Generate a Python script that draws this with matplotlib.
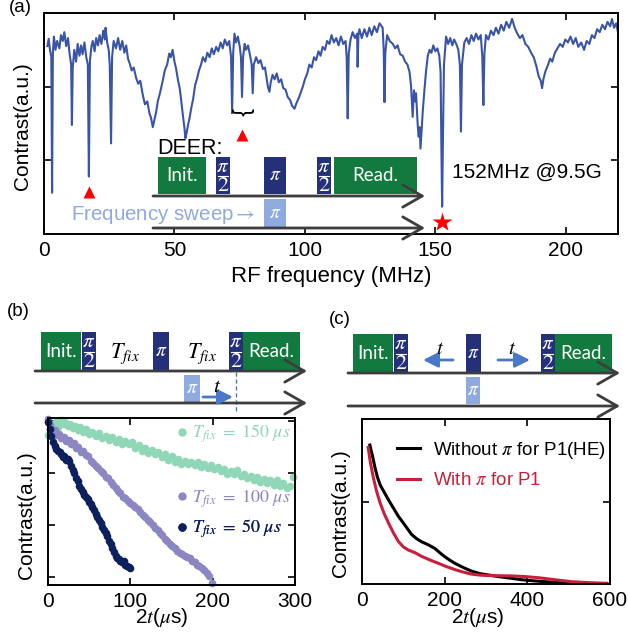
import matplotlib
matplotlib.use('Agg')
import matplotlib.pyplot as plt
from matplotlib.patches import Rectangle
from matplotlib.lines import Line2D

plt.rcParams['font.family'] = ['Liberation Sans', 'DejaVu Sans']
plt.rcParams['mathtext.fontset'] = 'stix'

# ---- (a) RF spectrum ----
rf_freq = [1.3, 1.8, 2.3, 2.8, 3.1, 3.4, 3.8, 4.4, 5.0, 5.9, 6.5, 7.2, 7.8, 8.5, 9.2, 9.8,
           10.4, 10.7, 11.0, 11.6, 12.3, 12.9, 13.6, 14.2, 14.8, 15.5, 16.2, 16.8, 17.2, 17.6,
           18.2, 18.7, 19.4, 20.0, 20.7, 21.3, 22.0, 22.7, 23.3, 23.6, 24.2, 24.8, 25.2, 25.7,
           26.1, 26.7, 27.6, 28.4, 29.2, 30.0, 30.8, 31.5, 32.2, 32.8, 33.6, 34.4, 35.3, 36.1,
           36.9, 37.9, 38.7, 39.6, 40.4, 41.0, 41.7, 42.3, 43.0, 43.6, 44.5, 45.5, 46.3, 47.2,
           48.0, 48.6, 49.3, 50.0, 50.6, 51.4, 52.0, 52.5, 53.2, 53.8, 54.2, 54.7, 55.2, 55.7,
           56.5, 57.2, 57.9, 58.6, 59.4, 60.2, 60.9, 61.8, 62.6, 63.5, 64.3, 65.1, 66.0, 66.8,
           67.7, 68.5, 69.3, 70.2, 71.0, 71.7, 72.1, 72.5, 73.0, 73.6, 74.3, 75.0, 75.5, 75.9,
           76.3, 76.9, 77.4, 78.2, 79.0, 79.6, 80.0, 80.4, 81.3, 82.2, 83.0, 83.9, 84.7, 85.3,
           85.8, 86.4, 86.9, 87.6, 88.4, 89.2, 90.0, 90.9, 91.7, 92.6, 93.4, 94.3, 95.1, 96.0,
           96.8, 97.6, 98.4, 99.2, 100.0, 100.9, 101.7, 102.6, 103.5, 104.3, 105.2, 106.0, 106.8,
           107.7, 108.5, 109.4, 110.2, 111.1, 112.0, 112.9, 113.8, 114.7, 115.6, 116.0, 116.4,
           116.8, 117.5, 118.3, 119.2, 120.0, 120.2, 120.5, 120.9, 121.8, 122.8, 123.8, 124.7,
           125.6, 126.6, 127.6, 128.6, 129.8, 130.2, 130.5, 130.8, 131.5, 132.5, 133.7, 134.6,
           135.5, 136.5, 137.5, 138.4, 139.3, 140.1, 140.7, 141.3, 141.8, 142.3, 142.6, 143.2,
           143.6, 144.0, 144.3, 144.7, 145.2, 145.8, 146.4, 147.1, 147.8, 148.5, 149.2, 150.0,
           150.8, 151.5, 152.0, 152.3, 152.6, 152.9, 153.3, 154.1, 154.9, 155.7, 156.5, 157.2,
           158.0, 158.8, 159.4, 159.8, 160.2, 161.1, 162.0, 162.9, 163.8, 164.7, 165.6, 166.5,
           167.4, 168.0, 168.4, 168.8, 169.4, 170.3, 171.3, 172.3, 173.2, 174.2, 175.2, 176.2,
           177.2, 178.3, 179.4, 180.4, 181.4, 182.4, 183.4, 184.5, 185.6, 186.7, 187.7, 188.7,
           189.6, 190.4, 190.9, 191.4, 192.1, 193.0, 194.0, 194.8, 195.8, 196.8, 197.8, 198.8,
           199.8, 200.8, 201.8, 202.8, 203.8, 204.8, 205.9, 207.0, 208.0, 209.0, 210.0, 211.0,
           212.0, 213.0, 214.0, 215.0, 216.0, 217.0, 217.7, 218.5, 219.3, 220.0]
rf_contrast = [2.55, 2.65, 2.50, 2.40, 0.56, 2.45, 2.68, 2.50, 2.62, 2.52, 2.70, 2.62, 2.74, 2.55, 2.66, 2.45,
               2.30, 1.48, 2.25, 2.50, 2.34, 2.58, 2.42, 2.56, 2.44, 2.60, 2.40, 2.30, 0.78, 2.35,
               2.55, 2.62, 2.48, 2.66, 2.56, 2.70, 2.58, 2.76, 2.64, 2.80, 2.60, 2.50, 2.30, 1.23,
               2.40, 2.62, 2.52, 2.66, 2.50, 2.62, 2.46, 2.56, 2.38, 2.32, 2.22, 2.26, 2.12, 2.04,
               2.08, 1.88, 1.76, 1.80, 1.64, 1.58, 1.45, 1.55, 1.66, 1.80, 1.92, 2.08, 2.22, 2.30,
               2.45, 2.40, 2.50, 2.34, 2.25, 2.08, 1.98, 1.84, 1.62, 1.45, 1.30, 1.38, 1.48, 1.56,
               1.72, 1.84, 2.02, 2.10, 2.22, 2.30, 2.40, 2.34, 2.46, 2.40, 2.52, 2.44, 2.54, 2.48,
               2.60, 2.52, 2.64, 2.56, 2.62, 2.40, 1.64, 2.45, 2.72, 2.60, 2.68, 2.55, 2.40, 1.86,
               2.40, 2.58, 2.50, 2.56, 2.42, 2.30, 1.91, 2.30, 2.40, 2.32, 2.36, 2.24, 2.26, 2.12,
               2.00, 1.93, 2.06, 2.16, 2.10, 2.18, 2.06, 2.10, 1.98, 1.96, 1.86, 1.82, 1.74, 1.70,
               1.78, 1.84, 1.92, 2.00, 2.10, 2.18, 2.30, 2.26, 2.40, 2.36, 2.48, 2.42, 2.54,
               2.50, 2.62, 2.58, 2.70, 2.60, 2.66, 2.56, 2.68, 2.58, 2.62, 2.40, 1.57,
               2.45, 2.64, 2.74, 2.66, 2.72, 2.27, 2.70, 2.78, 2.66, 2.78, 2.68, 2.80,
               2.70, 2.82, 2.74, 2.86, 2.80, 2.50, 1.79, 2.45, 2.70, 2.62, 2.58, 2.52,
               2.56, 2.44, 2.42, 2.34, 2.30, 2.20, 2.00, 1.59, 1.95, 1.80, 1.91, 1.50,
               1.32, 1.45, 1.16, 1.40, 1.68, 1.95, 2.20, 2.42, 2.50, 2.46, 2.56, 2.48,
               2.52, 2.42, 2.20, 1.20, 0.37, 1.30, 2.30, 2.68, 2.58, 2.66, 2.56, 2.64,
               2.58, 2.50, 2.30, 1.39, 2.30, 2.60, 2.66, 2.58, 2.70, 2.62, 2.72, 2.64,
               2.70, 2.40, 1.75, 2.45, 2.70, 2.64, 2.76, 2.70, 2.80, 2.72, 2.84, 2.76,
               2.88, 2.80, 2.92, 2.80, 2.72, 2.66, 2.70, 2.58, 2.54, 2.46, 2.40, 2.28,
               2.14, 2.08, 1.98, 2.10, 2.20, 2.28, 2.38, 2.34, 2.46, 2.52, 2.58, 2.54,
               2.64, 2.60, 2.68, 2.58, 2.66, 2.54, 2.60, 2.50, 2.62, 2.58, 2.70, 2.66,
               2.78, 2.74, 2.84, 2.78, 2.88, 2.82, 2.92, 2.80, 2.86, 2.74]
p1_freq = [17.4, 75.7]
p1_contrast = [0.57, 1.34]
nv_freq = [152.6]
nv_contrast = [0.16]

# ---- (b) DEER decay for three T_fix ----
t150_x = [0, 2, 4, 6, 8, 10, 12, 15, 17, 19, 21, 24, 27, 30, 33, 36, 39, 42, 46, 50, 54, 58, 62, 66,
          70, 74, 78, 82, 86, 90, 94, 98, 102, 106, 110, 114, 118, 122, 126, 130, 134, 138, 142,
          146, 150, 154, 158, 162, 166, 170, 174, 178, 182, 186, 190, 194, 198, 202, 206, 210,
          214, 218, 222, 226, 230, 234, 238, 242, 246, 250, 254, 258, 262, 266, 270, 274, 278,
          282, 286, 290, 294, 297]
t150_y = [2.73, 2.85, 2.95, 2.80, 2.92, 2.98, 2.88, 3.02, 3.03, 2.95, 2.98, 2.90, 2.94, 2.86, 2.90,
          2.82, 2.89, 2.80, 2.84, 2.76, 2.80, 2.72, 2.78, 2.68, 2.72, 2.64, 2.70, 2.60, 2.66, 2.56,
          2.62, 2.55, 2.60, 2.48, 2.54, 2.42, 2.48, 2.38, 2.44, 2.36, 2.40, 2.30, 2.36, 2.26, 2.32,
          2.22, 2.28, 2.18, 2.24, 2.18, 2.22, 2.16, 2.22, 2.12, 2.18, 2.10, 2.16, 2.08, 2.12, 2.04,
          2.08, 1.98, 2.04, 1.98, 2.06, 1.94, 1.98, 1.90, 1.94, 1.86, 1.92, 1.82, 1.88, 1.80, 1.86,
          1.78, 1.86, 1.76, 1.80, 1.72, 1.76, 1.92]
t100_x = [0, 2, 4, 6, 8, 10, 13, 16, 19, 22, 25, 28, 31, 34, 37, 40, 43, 46, 49, 52, 55, 58, 61, 64,
          67, 70, 73, 76, 79, 82, 85, 88, 91, 94, 97, 100, 103, 106, 109, 112, 115, 118, 121, 124,
          127, 130, 133, 136, 139, 142, 145, 148, 151, 154, 157, 160, 163, 166, 169, 172, 175,
          178, 181, 184, 187, 190, 193, 196, 199]
t100_y = [3.05, 2.92, 2.85, 2.78, 2.82, 2.74, 2.76, 2.68, 2.70, 2.62, 2.64, 2.56, 2.58, 2.48, 2.50,
          2.40, 2.42, 2.34, 2.32, 2.24, 2.20, 2.14, 2.10, 2.04, 2.00, 1.92, 1.90, 1.82, 1.78, 1.72,
          1.66, 1.62, 1.54, 1.52, 1.46, 1.42, 1.38, 1.34, 1.30, 1.26, 1.20, 1.16, 1.10, 1.06, 1.00,
          0.94, 0.90, 0.84, 0.80, 0.74, 0.70, 0.64, 0.60, 0.56, 0.50, 0.46, 0.44, 0.40, 0.38, 0.36,
          0.30, 0.28, 0.24, 0.22, 0.18, 0.14, 0.08, 0.02, -0.12]
t50_x = [0, 2, 4, 6, 8, 10, 12, 14, 16, 18, 20, 22, 24, 26, 28, 30, 32, 34, 36, 38, 40, 42, 44, 46,
         48, 50, 52, 54, 56, 58, 60, 62, 64, 66, 68, 70, 72, 74, 76, 78, 80, 82, 84, 86, 88, 90,
         92, 94, 96, 98, 100]
t50_y = [2.99, 2.85, 2.72, 2.60, 2.52, 2.47, 2.42, 2.40, 2.36, 2.30, 2.32, 2.26, 2.28, 2.24, 2.14,
         2.06, 2.00, 1.90, 1.84, 1.76, 1.70, 1.64, 1.58, 1.54, 1.50, 1.44, 1.40, 1.34, 1.28, 1.22,
         1.16, 1.10, 1.04, 0.96, 0.90, 0.84, 0.78, 0.70, 0.64, 0.55, 0.48, 0.40, 0.36, 0.34, 0.30,
         0.28, 0.30, 0.24, 0.22, 0.20, 0.18]

# ---- (c) Hahn echo with / without P1 pi pulse ----
he_x = [19, 25, 31, 37, 44, 54, 64, 76, 88, 100, 110, 120, 132, 144, 160, 176, 188, 200, 212, 225,
        245, 265, 285, 305, 330, 360, 386, 420, 466, 500, 547, 592]
he_y = [0.842, 0.78, 0.71, 0.65, 0.60, 0.555, 0.51, 0.46, 0.41, 0.37, 0.335, 0.30, 0.275, 0.256,
        0.238, 0.216, 0.19, 0.166, 0.145, 0.125, 0.10, 0.078, 0.063, 0.055, 0.045, 0.035, 0.026,
        0.018, 0.010, 0.007, 0.004, 0.004]
p1_x = [15, 20, 27, 35, 44, 54, 64, 76, 88, 100, 112, 128, 144, 165, 185, 205, 225, 245, 265, 285,
        305, 335, 362, 395, 427, 470, 507, 550, 592]
p1_y = [0.828, 0.74, 0.65, 0.565, 0.49, 0.425, 0.37, 0.31, 0.258, 0.225, 0.206, 0.19, 0.168, 0.145,
        0.125, 0.105, 0.087, 0.072, 0.060, 0.054, 0.051, 0.050, 0.049, 0.045, 0.038, 0.025, 0.014,
        0.008, 0.002]

GREEN = '#127a3e'
NAVY = '#24307a'
LIGHT = '#8eaade'
GREY = '#3d3d3d'
ARROW = '#4a78c8'

W, H = 628, 636
fig = plt.figure(figsize=(6.28, 6.36), dpi=100)


def place(l, t, r, b):
    return [l / W, 1 - b / H, (r - l) / W, (b - t) / H]


def style(ax):
    ax.tick_params(direction='in', top=True, right=True, length=5, width=1.2,
                   labelsize=15, pad=5)
    for s in ax.spines.values():
        s.set_linewidth(1.4)
    ax.set_yticklabels([])


# (a)
ax_a = fig.add_axes(place(44, 13, 618, 234))
ax_a.plot(rf_freq, rf_contrast, color='#3a55a6', lw=1.5)
ax_a.plot(p1_freq, p1_contrast, '^', color='red', ms=9, mec='none', zorder=4)
ax_a.plot(nv_freq, nv_contrast, '*', color='red', ms=15, mec='none', zorder=4, clip_on=False)
ax_a.set_xlim(0, 220)
ax_a.set_ylim(0, 3)
ax_a.set_xticks([0, 50, 100, 150, 200])
ax_a.set_yticks([1, 2])
style(ax_a)
ax_a.set_xlabel('RF frequency (MHz)', fontsize=16, va='top')
ax_a.xaxis.set_label_coords(0.5, -0.143)
ax_a.set_ylabel('Contrast(a.u.)', fontsize=15)
ax_a.yaxis.set_label_coords(-0.021, 0.49)

# (b)
ax_b = fig.add_axes(place(48, 418, 295, 585))
series_b = [(t150_x, t150_y, '#8fd7b6', r'$T_{fix}\ =\ 150\ \mu s$', 434),
            (t100_x, t100_y, '#8c86c2', r'$T_{fix}\ =\ 100\ \mu s$', 499),
            (t50_x, t50_y, '#0d1f5c', r'$T_{fix}\ =\ 50\ \mu s$', 529)]
for xs, ys, c, lab, py in series_b:
    ax_b.plot(xs, ys, 'o', color=c, ms=5.5, mec='none', clip_on=False)
for xs, ys, c, lab, py in series_b:
    h = Line2D([], [], marker='o', ls='none', color=c, ms=6, mec='none')
    leg = ax_b.legend([h], [lab], loc='center left', frameon=False, fontsize=13,
                      bbox_to_anchor=((177.5 - 48) / 247, (585 - py) / 167),
                      borderpad=0, borderaxespad=0, handlelength=0.5,
                      handletextpad=0.3, labelcolor=c)
    ax_b.add_artist(leg)
ax_b.set_xlim(0, 300)
ax_b.set_ylim(-0.154, 3.06)
ax_b.set_xticks([0, 100, 200, 300])
ax_b.set_yticks([0, 1, 2, 3])
style(ax_b)
ax_b.set_xlabel(r'2$t$($\mu$s)', fontsize=15, va='top')
ax_b.xaxis.set_label_coords(0.46, -0.126)
ax_b.set_ylabel('Contrast(a.u.)', fontsize=15)
ax_b.yaxis.set_label_coords(-0.049, 0.42)

# (c)
ax_c = fig.add_axes(place(362, 419, 610, 584))
ax_c.plot(he_x, he_y, color='black', lw=2.2, label=r'Without $\pi$ for P1(HE)')
ax_c.plot(p1_x, p1_y, color='#c8203c', lw=2.2, label=r'With $\pi$ for P1')
ax_c.legend(loc='center left', bbox_to_anchor=(0.141, 0.724), frameon=False, fontsize=13.5,
            borderpad=0, borderaxespad=0, handlelength=1.23, handletextpad=0.7,
            labelspacing=0.6, labelcolor='linecolor')
ax_c.set_xlim(0, 600)
ax_c.set_ylim(0, 1)
ax_c.set_xticks([0, 200, 400, 600])
ax_c.set_yticks([0, 0.5, 1])
style(ax_c)
ax_c.set_xlabel(r'2$t$($\mu$s)', fontsize=15, va='top')
ax_c.xaxis.set_label_coords(0.468, -0.133)
ax_c.set_ylabel('Contrast(a.u.)', fontsize=15)
ax_c.yaxis.set_label_coords(-0.048, 0.43)

# pulse-sequence sketches, drawn in pixel space on top
ov = fig.add_axes([0, 0, 1, 1], zorder=10)
ov.set_xlim(0, W)
ov.set_ylim(H, 0)
ov.axis('off')
ov.patch.set_visible(False)


def pulse(l, r, t, b, color, label=None, half=False):
    ov.add_patch(Rectangle((l, t), r - l, b - t, color=color, lw=0))
    cx = (l + r) / 2
    hgt = b - t
    if half:
        ov.text(cx, t + hgt * 0.25, r'$\pi$', color='w', ha='center', va='center', fontsize=15)
        ov.plot([l + 2, r - 2], [t + hgt * 0.5, t + hgt * 0.5], color='w', lw=0.8)
        ov.text(cx, t + hgt * 0.76, r'$2$', color='w', ha='center', va='center', fontsize=16)
    elif label == 'pi':
        ov.text(cx, t + hgt * 0.5, r'$\pi$', color='w', ha='center', va='center', fontsize=14)
    elif label:
        ov.text(cx, t + hgt * 0.5, label, color='w', ha='center', va='center', fontsize=13.5,
                family=['Lato', 'DejaVu Sans'])


def timeline(x0, x1, y):
    ov.annotate('', xy=(x1, y), xytext=(x0, y),
                arrowprops=dict(arrowstyle='->,head_length=1.4,head_width=0.8', lw=2,
                                color=GREY, mutation_scale=10, shrinkA=0, shrinkB=0))


def blue_arrow(x0, x1, y):
    ov.annotate('', xy=(x1, y), xytext=(x0, y),
                arrowprops=dict(arrowstyle='-|>,head_length=0.9,head_width=0.45', lw=2,
                                color=ARROW, mutation_scale=10, shrinkA=0, shrinkB=0))


# (a) DEER
ov.text(157, 148, 'DEER:', fontsize=15.5, ha='left', va='center')
timeline(153, 425, 196)
timeline(153, 425, 228)
pulse(158, 206, 157, 194, GREEN, 'Init.')
pulse(216, 230, 157, 194, NAVY, half=True)
pulse(264, 286, 157, 194, NAVY, 'pi')
pulse(317, 331, 157, 194, NAVY, half=True)
pulse(334, 417, 157, 194, GREEN, 'Read.')
pulse(264, 286, 199, 227, LIGHT, 'pi')
ov.text(71, 215, r'Frequency sweep$\rightarrow$', color=LIGHT, fontsize=14.8, ha='left', va='center')
ov.text(452, 172, '152MHz @9.5G', fontsize=15, ha='left', va='center')
ov.text(241.5, 112, '}', rotation=-90, fontsize=17, ha='center', va='center')

# (b) sequence
timeline(35, 307, 371)
timeline(35, 307, 403)
pulse(41, 81, 332, 371, GREEN, 'Init.')
pulse(82, 96, 332, 371, NAVY, half=True)
pulse(153, 169, 332, 371, NAVY, 'pi')
pulse(229, 243, 332, 371, NAVY, half=True)
pulse(243, 300, 332, 371, GREEN, 'Read.')
pulse(184, 200, 375, 402, LIGHT, 'pi')
ov.text(125, 354, r'$T_{fix}$', fontsize=16, ha='center', va='center')
ov.text(202, 354, r'$T_{fix}$', fontsize=16, ha='center', va='center')
blue_arrow(203, 233, 397)
ov.text(217, 386, r'$t$', fontsize=15, ha='center', va='center')
ov.plot([236, 236], [372, 412], color=ARROW, lw=1, ls=(0, (3, 2)))

# (c) sequence
timeline(348, 620, 373)
timeline(348, 620, 406)
pulse(353, 393, 334, 373, GREEN, 'Init.')
pulse(394, 408, 334, 373, NAVY, half=True)
pulse(466, 481, 334, 373, NAVY, 'pi')
pulse(541, 555, 334, 373, NAVY, half=True)
pulse(555, 612, 334, 373, GREEN, 'Read.')
pulse(466, 480, 377, 404, LIGHT, 'pi')
blue_arrow(453, 423, 360)
blue_arrow(498, 530, 360)
ov.text(440, 348, r'$t$', fontsize=15, ha='center', va='center')
ov.text(512, 348, r'$t$', fontsize=15, ha='center', va='center')

# panel letters
ov.text(20, 7, '(a)', fontsize=13.5, ha='center', va='center')
ov.text(18, 312, '(b)', fontsize=13.5, ha='center', va='center')
ov.text(340, 320, '(c)', fontsize=13.5, ha='center', va='center')

fig.savefig('out.png', dpi=100)
